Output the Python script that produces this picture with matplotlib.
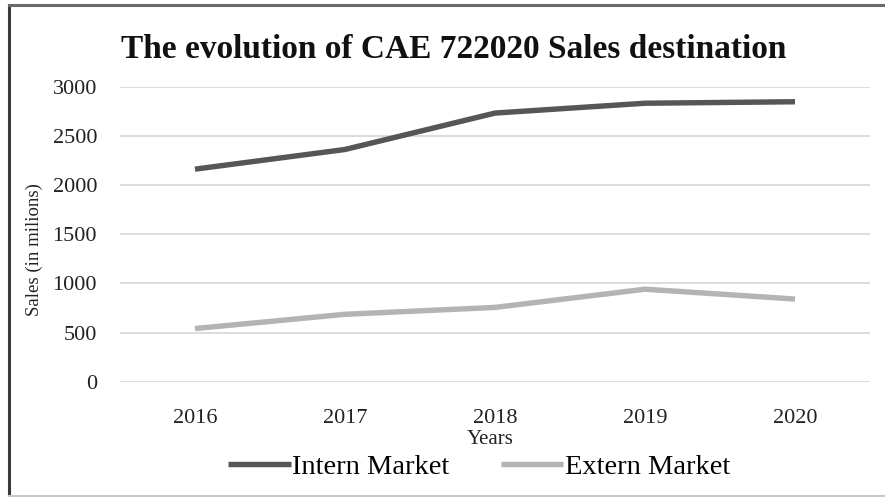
import matplotlib
matplotlib.use("Agg")
import matplotlib.pyplot as plt
from matplotlib.lines import Line2D

years = ["2016", "2017", "2018", "2019", "2020"]
intern_market = [2160, 2360, 2730, 2830, 2845]
extern_market = [540, 685, 755, 940, 840]
y_ticks = [0, 500, 1000, 1500, 2000, 2500, 3000]

plt.rcParams["font.family"] = ["Liberation Serif", "DejaVu Serif"]

fig = plt.figure(figsize=(8.85, 4.97), dpi=100)
ax = fig.add_axes([120 / 885, 1 - 381.7 / 497, 750 / 885, 295.2 / 497])

x = list(range(len(years)))
ax.plot(x, intern_market, color="#565656", lw=3.9, solid_capstyle="butt", label="Intern Market")
ax.plot(x, extern_market, color="#b4b4b4", lw=3.9, solid_capstyle="butt", label="Extern Market")

ax.set_xlim(-0.5, 4.5)
ax.set_ylim(0, 3000)
ax.set_yticks(y_ticks)
ax.set_xticks(x)
ax.set_xticklabels(years)
ax.grid(axis="y", color="#d9d9d9", lw=1.3)
ax.set_axisbelow(True)
for s in ax.spines.values():
    s.set_visible(False)
ax.tick_params(axis="y", length=0, pad=16.5, labelsize=16, colors="#222222")
ax.tick_params(axis="x", length=0, pad=20, labelsize=16, colors="#222222")

fig.text(454 / 885, 1 - 49 / 497, "The evolution of CAE 722020 Sales destination",
         ha="center", va="center", fontsize=24, fontweight="bold", color="#111111")
fig.text(490 / 885, 1 - 440 / 497, "Years", ha="center", va="center", fontsize=15, color="#222222")
fig.text(34 / 885, 1 - 250 / 497, "Sales (in milions)", ha="center", va="center",
         rotation=90, fontsize=13.5, color="#222222")

fig.legend(loc="center", bbox_to_anchor=(479 / 885, 1 - 467 / 497), ncol=2, frameon=False,
           fontsize=20.5, handlelength=2.2, handletextpad=0.05, columnspacing=1.8)

# frame around the whole chart
fig.add_artist(Line2D([9 / 885, 9 / 885], [0, 1 - 5 / 497], transform=fig.transFigure,
                      color="#3a3a3a", lw=2.2))
fig.add_artist(Line2D([9 / 885, 1], [1 - 5 / 497, 1 - 5 / 497], transform=fig.transFigure,
                      color="#6a6a6a", lw=2.2))
fig.add_artist(Line2D([9 / 885, 1], [1.5 / 497, 1.5 / 497], transform=fig.transFigure,
                      color="#c8c8c8", lw=1.5))

fig.savefig("out.png", dpi=100)
